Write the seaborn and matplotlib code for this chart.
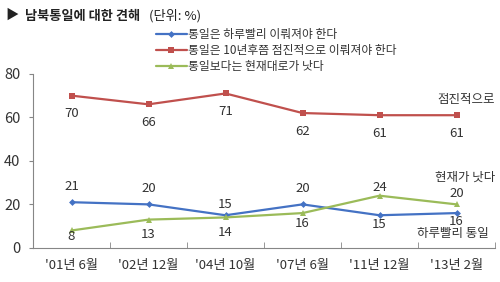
import numpy as np
import pandas as pd
import matplotlib
matplotlib.use('Agg')
import matplotlib.pyplot as plt
import seaborn as sns

# 조사 시점
periods = ["'01년 6월", "'02년 12월", "'04년 10월", "'07년 6월", "'11년 12월", "'13년 2월"]
# 응답 비율 (%)
haru = [21, 20, 15, 20, 15, 16]       # 하루빨리
jeomjin = [70, 66, 71, 62, 61, 61]    # 점진적으로
hyeonjae = [8, 13, 14, 16, 24, 20]    # 현재대로

legend_names = ['통일은 하루빨리 이뤄져야 한다',
                '통일은 10년후쯤 점진적으로 이뤄져야 한다',
                '통일보다는 현재대로가 낫다']

sns.set_style('white')
plt.rcParams['font.family'] = ['Noto Sans CJK KR', 'DejaVu Sans']

fig = plt.figure(figsize=(5, 2.82), dpi=100)
ax = fig.add_axes([0.066, 0.121, 0.924, 0.617])

blue = '#4472C4'
red = '#C0504D'
green = '#9BBB59'

sns.lineplot(x=periods, y=haru, ax=ax, color=blue, marker='D', markersize=3.5,
             markeredgewidth=0, linewidth=1.6, label=legend_names[0], sort=False)
sns.lineplot(x=periods, y=jeomjin, ax=ax, color=red, marker='s', markersize=4,
             markeredgewidth=0, linewidth=1.6, label=legend_names[1], sort=False)
sns.lineplot(x=periods, y=hyeonjae, ax=ax, color=green, marker='^', markersize=4.5,
             markeredgewidth=0, linewidth=1.6, label=legend_names[2], sort=False)

ax.set_xlim(-0.5, 5.5)
ax.set_ylim(0, 80)
ax.set_yticks([0, 20, 40, 60, 80])
ax.set_xlabel('')
ax.set_ylabel('')

# 값 표시 (픽셀 단위 세로 오프셋)
txt = '#333333'
red_off = [-18, -18, -18, -18, -18, -18]
blue_off = [16, 16, 11, 16, -9, -8]
green_off = [-6, -15, -15, -10, 8, 11]
for vals, offs in [(jeomjin, red_off), (haru, blue_off), (hyeonjae, green_off)]:
    for i, v in enumerate(vals):
        ax.annotate(str(v), (i, v), xytext=(0, offs[i] * 0.72), textcoords='offset points',
                    ha='center', va='center', fontsize=9.5, color=txt)

ax.text(5.5, 68, '점진적으로', ha='right', va='center', fontsize=9, color=txt)
ax.text(5.5, 32.5, '현재가 낫다', ha='right', va='center', fontsize=9, color=txt)
ax.text(5.42, 6.5, '하루빨리 통일', ha='right', va='center', fontsize=9, color=txt)

# 축 스타일
for s in ['top', 'right']:
    ax.spines[s].set_visible(False)
for s in ['left', 'bottom']:
    ax.spines[s].set_color('#868686')
    ax.spines[s].set_linewidth(0.8)
ax.set_xticks(np.arange(-0.5, 6, 1), minor=True)
ax.tick_params(axis='x', which='major', length=0, labelsize=9.5, colors=txt, pad=8)
ax.tick_params(axis='x', which='minor', length=4, direction='in', color='#868686', bottom=True)
ax.tick_params(axis='y', which='major', length=3, direction='out', color='#868686',
               labelsize=10.5, colors=txt, left=True, pad=6)

leg = ax.legend(loc='upper left', bbox_to_anchor=(0.3, 0.92), bbox_transform=fig.transFigure,
                frameon=False, fontsize=8.5, handlelength=2.6, handletextpad=0.1,
                labelspacing=0.25, borderpad=0)
for t in leg.get_texts():
    t.set_color(txt)

fig.text(0.012, 0.945, '▶ ', fontsize=9.5, va='center', ha='left', color='#222222')
fig.text(0.05, 0.945, '남북통일에 대한 견해', fontsize=9.5, fontweight='bold',
         va='center', ha='left', color='#222222')
fig.text(0.298, 0.945, '(단위: %)', fontsize=9.5, va='center', ha='left', color='#222222')

fig.savefig('out.png', dpi=100)
